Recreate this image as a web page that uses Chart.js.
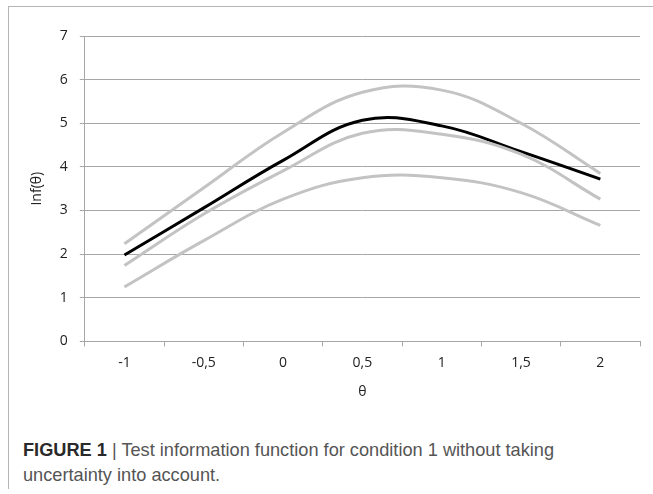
<!DOCTYPE html>
<html>
<head>
<meta charset="utf-8">
<script src="https://cdn.jsdelivr.net/npm/chart.js@4.4.0/dist/chart.umd.min.js"></script>
<style>
  html, body { margin: 0; padding: 0; background: #fff; }
  body { width: 653px; height: 494px; position: relative; overflow: hidden; }
  #frame {
    position: absolute; left: 8px; top: 6px; width: 700px; height: 482px;
    border-left: 1px solid #b5b5b5; border-top: 1px solid #b5b5b5;
  }
  #chartBox { position: absolute; left: 0; top: 0; width: 653px; height: 400px; }
  #caption {
    position: absolute; left: 23px; top: 438px; width: 600px;
    font-family: "Liberation Sans", Arial, sans-serif; font-size: 18.2px;
    line-height: 25px; color: #555;
  }
  #caption b { color: #2a2a2a; }
</style>
</head>
<body>
<div id="frame"></div>
<div id="chartBox"><canvas id="chart"></canvas></div>
<div id="caption"><b>FIGURE 1</b> | Test information function for condition 1 without taking<br>uncertainty into account.</div>
<script>
// theta categories
const thetaLabels = ["-1", "-0,5", "0", "0,5", "1", "1,5", "2"];

// test information, black curve
const infMain  = [1.98, 3.06, 4.15, 5.07, 4.94, 4.35, 3.72];
// grey curves
const infUpper = [2.24, 3.52, 4.79, 5.71, 5.76, 5.00, 3.85];
const infMid   = [1.74, 2.92, 3.91, 4.77, 4.75, 4.29, 3.26];
const infLower = [1.25, 2.31, 3.26, 3.75, 3.75, 3.41, 2.66];

const yTicks = [0, 1, 2, 3, 4, 5, 6, 7];

const greyLine = "#c3c3c3";
const tickFont = { family: "'Open Sans', 'Noto Sans', sans-serif", size: 14 };

function series(data, color)
{
    return {
        data: data,
        borderColor: color,
        borderWidth: 3,
        pointRadius: 0,
        tension: 0.4,
        fill: false
    };
}

const ctx = document.getElementById("chart").getContext("2d");
const myChart = new Chart(ctx,
{
    type: 'line',
    data:
    {
        labels: thetaLabels,
        datasets:
        [
            series(infUpper, greyLine),
            series(infMid, greyLine),
            series(infLower, greyLine),
            series(infMain, "#000")
        ]
    },
    options:
    {
        responsive: true,
        maintainAspectRatio: false,
        animation: false,
        layout: { padding: { top: 36, right: 13, left: 29, bottom: 0 } },
        plugins: { legend: { display: false }, tooltip: { enabled: false } },
        scales:
        {
            x:
            {
                offset: true,
                grid: { offset: true, drawOnChartArea: false, drawTicks: true, tickLength: 5, color: "#a6a6a6" },
                border: { color: "#a6a6a6" },
                ticks: { color: "#222", font: tickFont, padding: 8, maxRotation: 0 },
                title: { display: true, text: "θ", color: "#222", font: tickFont, padding: { top: 4, bottom: 0 } }
            },
            y:
            {
                min: 0,
                max: 7,
                afterBuildTicks: (axis) => { axis.ticks = yTicks.map(v => ({ value: v })); },
                grid: { color: "#a6a6a6", tickLength: 5 },
                border: { color: "#a6a6a6" },
                ticks: { color: "#222", font: tickFont, padding: 12 },
                title: { display: true, text: "Inf(θ)", color: "#222", font: tickFont, padding: { top: 0, bottom: 2 } }
            }
        }
    }
});
</script>
</body>
</html>
